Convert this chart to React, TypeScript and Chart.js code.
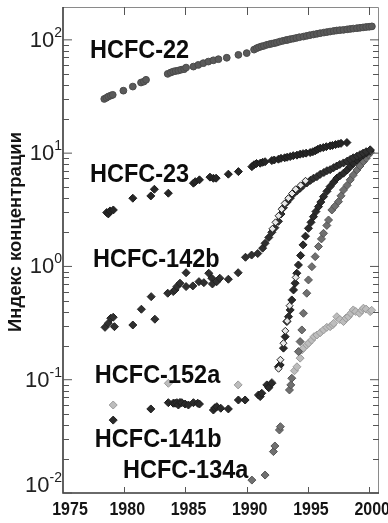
import { useEffect, useRef } from 'react';
import { Chart, registerables } from 'chart.js';
Chart.register(...registerables);

// ---- axis data ----
const xTickYears = [1975, 1980, 1985, 1990, 1995, 2000];
const yDecadeExponents = [-2, -1, 0, 1, 2];
const yMinorMultipliers = [2, 3, 4, 5, 6, 7, 8, 9];
const yAxisTitle = 'Индекс концентрации';

// ---- series (year, concentration index) ----
const hcfc22: [number, number][] = [
  [1978.37, 30.1], [1978.55, 30.8], [1978.7, 31.6], [1978.9, 32.2], [1979.06, 32.7], [1979.93, 35.6],
  [1980.7, 38.7], [1981.37, 42.0], [1981.6, 42.8], [1981.78, 44.4], [1983.55, 50.1], [1983.8, 51.5],
  [1984.0, 52.5], [1984.2, 53.1], [1984.42, 53.6], [1984.65, 54.5], [1984.89, 55.1], [1985.05, 56.9],
  [1985.65, 58.1], [1986.05, 60.1], [1986.46, 62.3], [1986.87, 64.3], [1987.28, 66.0], [1987.69, 67.5],
  [1988.37, 69.5], [1989.32, 73.7], [1990.0, 76.4], [1990.6, 82], [1990.82, 84.5], [1991.0, 86],
  [1991.2, 87.5], [1991.4, 88.5], [1991.64, 90.4], [1991.85, 91.5], [1992.05, 92.5], [1992.25, 93.5],
  [1992.46, 94.7], [1992.7, 96.5], [1992.95, 98], [1993.2, 99.5], [1993.35, 100], [1993.55, 101.4],
  [1993.8, 102.5], [1994.05, 104], [1994.3, 105.5], [1994.63, 106.9], [1994.9, 108.5], [1995.15, 110],
  [1995.45, 111.5], [1995.73, 113], [1996.0, 114.5], [1996.3, 116], [1996.55, 117.2], [1996.81, 118.4],
  [1997.1, 119.8], [1997.35, 121], [1997.6, 121.8], [1997.9, 122.5], [1998.2, 123.8], [1998.45, 124.8],
  [1998.7, 125.8], [1999.0, 126.8], [1999.25, 127.8], [1999.5, 128.8], [1999.75, 129.8], [2000.0, 130.5],
  [2000.22, 131.5],
];

const hcfc23: [number, number][] = [
  [1978.57, 2.99], [1978.7, 2.91], [1978.84, 3.09], [1979.11, 3.15], [1980.7, 4.0], [1982.17, 4.19],
  [1982.46, 4.8], [1983.6, 4.43], [1985.65, 5.43], [1985.8, 5.6], [1986.14, 5.81], [1987.0, 6.14],
  [1987.28, 6.0], [1987.5, 6.01], [1988.5, 6.52], [1989.32, 6.87], [1990.42, 7.6], [1990.6, 7.9],
  [1990.8, 8.1], [1991.1, 8.15], [1991.3, 8.3], [1991.5, 8.4], [1992.05, 8.6], [1992.25, 8.7],
  [1992.59, 8.84], [1992.8, 9.0], [1993.1, 9.1], [1993.3, 9.2], [1993.55, 9.33], [1993.8, 9.5],
  [1994.1, 9.6], [1994.36, 9.79], [1994.6, 9.9], [1994.85, 10.0], [1995.18, 10.12], [1995.4, 10.3],
  [1995.6, 10.5], [1995.8, 10.8], [1996.0, 11.06], [1996.25, 11.2], [1996.5, 11.4], [1996.81, 11.6],
  [1997.0, 11.7], [1997.25, 11.9], [1997.49, 12.07], [1997.7, 12.2], [1998.18, 12.4],
];

const hcfc142b: [number, number][] = [
  [1978.43, 0.29], [1978.7, 0.315], [1978.9, 0.349], [1979.1, 0.356], [1979.2, 0.294], [1980.7, 0.304],
  [1981.4, 0.419], [1982.2, 0.541], [1982.5, 0.342], [1983.55, 0.58], [1984.0, 0.6], [1984.15, 0.62],
  [1984.3, 0.664], [1984.55, 0.711], [1985.05, 0.88], [1985.05, 0.664], [1985.6, 0.673], [1986.1, 0.734],
  [1986.5, 0.719], [1986.9, 0.871], [1987.15, 0.787], [1987.2, 0.7], [1987.55, 0.734], [1987.8, 0.787],
  [1988.5, 0.771], [1989.3, 0.88], [1989.9, 1.205], [1990.4, 1.26], [1990.9, 1.3], [1991.3, 1.45],
  [1991.5, 1.6], [1991.8, 1.8], [1992.05, 2.0], [1992.3, 2.2], [1992.59, 2.5], [1992.8, 2.9],
  [1993.0, 3.3], [1993.3, 3.7], [1993.55, 4.0], [1993.8, 4.35], [1994.1, 4.65], [1994.36, 4.9],
  [1994.6, 5.2], [1994.9, 5.45], [1995.2, 5.75], [1995.45, 6.0], [1995.73, 6.2], [1996.0, 6.5],
  [1996.3, 6.75], [1996.55, 7.0], [1996.81, 7.15], [1997.1, 7.45], [1997.35, 7.7], [1997.6, 7.95],
  [1997.9, 8.2], [1998.2, 8.5], [1998.45, 8.8], [1998.7, 9.1], [1999.0, 9.4], [1999.25, 9.7],
  [1999.5, 10.0], [1999.75, 10.3], [2000.08, 10.7],
];

const hcfc142bOpen: [number, number][] = [
  [1992.1, 2.15], [1992.35, 2.45], [1992.6, 2.8], [1992.85, 3.2], [1993.1, 3.6], [1993.4, 4.0],
  [1993.7, 4.4], [1994.0, 4.8], [1994.4, 5.2], [1994.8, 5.7],
];

const hcfc141b: [number, number][] = [
  [1979.1, 0.044], [1982.17, 0.0552], [1983.6, 0.0627], [1984.0, 0.062], [1984.15, 0.062], [1984.3, 0.0627],
  [1984.42, 0.0598], [1984.55, 0.063], [1984.7, 0.0627], [1984.97, 0.061], [1985.24, 0.0598], [1985.65, 0.0627],
  [1986.0, 0.062], [1986.14, 0.061], [1987.28, 0.054], [1987.4, 0.0565], [1987.56, 0.0578], [1987.88, 0.056],
  [1988.5, 0.0552], [1989.32, 0.0662], [1989.87, 0.0662], [1990.96, 0.0733], [1991.1, 0.071], [1991.23, 0.0759],
  [1991.64, 0.09], [1991.8, 0.085], [1992.05, 0.093], [1992.59, 0.13], [1992.73, 0.135], [1993.0, 0.19],
  [1993.14, 0.24], [1993.28, 0.326], [1993.41, 0.36], [1993.55, 0.413], [1993.68, 0.506], [1993.82, 0.62],
  [1993.95, 0.711], [1994.09, 0.871], [1994.22, 1.03], [1994.4, 1.25], [1994.6, 1.55], [1994.8, 1.85],
  [1995.04, 2.17], [1995.25, 2.45], [1995.45, 2.75], [1995.65, 3.05], [1995.86, 3.37], [1996.05, 3.7],
  [1996.27, 4.13], [1996.55, 4.6], [1996.81, 5.07], [1997.1, 5.55], [1997.36, 6.01], [1997.6, 6.3],
  [1997.9, 6.65], [1998.2, 7.1], [1998.45, 7.61], [1998.7, 8.1], [1999.0, 8.71], [1999.25, 9.2],
  [1999.53, 9.66], [1999.8, 10.1], [2000.08, 10.5],
];

const hcfc141bOpen: [number, number][] = [
  [1992.6, 0.125], [1992.75, 0.15], [1993.0, 0.21], [1993.15, 0.27], [1993.3, 0.33], [1993.5, 0.45], [1994.0, 0.8],
];

const hcfc134a: [number, number][] = [
  [1990.42, 0.013], [1991.5, 0.0144], [1992.18, 0.0232], [1992.3, 0.026], [1992.67, 0.036], [1992.75, 0.0385],
  [1993.49, 0.0812], [1993.6, 0.09], [1993.68, 0.103], [1994.22, 0.177], [1994.36, 0.217], [1994.5, 0.275],
  [1994.63, 0.386], [1994.9, 0.58], [1995.04, 0.76], [1995.32, 0.995], [1995.59, 1.22], [1995.86, 1.5],
  [1996.1, 1.75], [1996.27, 1.96], [1996.54, 2.3], [1996.68, 2.57], [1996.95, 3.15], [1997.2, 3.4],
  [1997.49, 3.73], [1997.7, 4.2], [1997.9, 4.73], [1998.2, 5.2], [1998.45, 5.81], [1998.7, 6.4],
  [1999.0, 7.11], [1999.25, 7.7], [1999.53, 8.42], [1999.75, 9.0], [1999.94, 9.66], [2000.1, 10.2],
];

const hcfc152a: [number, number][] = [
  [1979.1, 0.0598], [1983.6, 0.093], [1989.3, 0.09], [1992.05, 0.095], [1993.9, 0.12], [1994.1, 0.13],
  [1994.36, 0.155], [1994.5, 0.183], [1994.63, 0.19], [1994.9, 0.203], [1995.05, 0.21], [1995.3, 0.224],
  [1995.5, 0.24], [1995.73, 0.248], [1996.0, 0.26], [1996.27, 0.275], [1996.54, 0.29], [1996.81, 0.294],
  [1997.0, 0.304], [1997.1, 0.315], [1997.36, 0.36], [1997.6, 0.34], [1997.9, 0.326], [1998.1, 0.35],
  [1998.3, 0.36], [1998.5, 0.385], [1998.7, 0.413], [1998.9, 0.4], [1999.2, 0.386], [1999.4, 0.41],
  [1999.53, 0.428], [1999.75, 0.42], [2000.08, 0.399], [2000.2, 0.41],
];

// ---- in-plot series labels (anchored in data coordinates: year, index) ----
const labelNames = ['HCFC-22', 'HCFC-23', 'HCFC-142b', 'HCFC-152a', 'HCFC-141b', 'HCFC-134a'];
const labelYears = [1977.2, 1977.2, 1977.45, 1977.6, 1977.6, 1979.9];
const labelValues = [69.3, 5.57, 0.99, 0.0936, 0.0255, 0.01356];

const toPoints = (arr: [number, number][]) => arr.map(([x, y]) => ({ x, y }));

const framePlugin = {
  id: 'scanFrame',
  afterDraw(chart: any) {
    const { ctx, chartArea: a, scales } = chart;
    const xs = scales.x;
    const ys = scales.y;
    ctx.save();

    // frame
    ctx.strokeStyle = '#8a8a8a';
    ctx.lineWidth = 1;
    ctx.beginPath();
    ctx.moveTo(a.left, a.top + 0.5);
    ctx.lineTo(a.right - 0.5, a.top + 0.5);
    ctx.lineTo(a.right - 0.5, a.bottom);
    ctx.stroke();
    ctx.strokeStyle = '#3a3a3a';
    ctx.lineWidth = 1.6;
    ctx.beginPath();
    ctx.moveTo(a.left, a.top);
    ctx.lineTo(a.left, a.bottom);
    ctx.lineTo(a.right, a.bottom);
    ctx.stroke();

    // y ticks (inside, both sides)
    ctx.lineWidth = 1;
    ctx.strokeStyle = '#555';
    ctx.beginPath();
    yDecadeExponents.forEach((e) => {
      const base = Math.pow(10, e);
      const majorY = ys.getPixelForValue(base);
      ctx.moveTo(a.left, majorY); ctx.lineTo(a.left + 9, majorY);
      ctx.moveTo(a.right, majorY); ctx.lineTo(a.right - 9, majorY);
      yMinorMultipliers.forEach((m) => {
        const v = m * base;
        if (v > ys.max) return;
        const py = Math.round(ys.getPixelForValue(v)) + 0.5;
        ctx.moveTo(a.left, py); ctx.lineTo(a.left + 6, py);
        ctx.moveTo(a.right, py); ctx.lineTo(a.right - 6, py);
      });
    });
    // x ticks (inside, top and bottom)
    xTickYears.forEach((yr) => {
      const px = Math.round(xs.getPixelForValue(yr)) + 0.5;
      if (px <= a.left + 1) return;
      ctx.moveTo(px, a.bottom); ctx.lineTo(px, a.bottom - 6);
      ctx.moveTo(px, a.top); ctx.lineTo(px, a.top + 8);
    });
    ctx.stroke();

    // x tick labels
    ctx.fillStyle = '#151515';
    ctx.font = "bold 16px 'Liberation Sans', Arial, sans-serif";
    ctx.textAlign = 'center';
    ctx.textBaseline = 'alphabetic';
    xTickYears.forEach((yr, i) => {
      const px = xs.getPixelForValue(yr) + (i === 0 ? 7 : 3);
      ctx.save();
      ctx.translate(px, a.bottom + 22);
      ctx.scale(1, 1.15);
      ctx.fillText(String(yr), 0, 0);
      ctx.restore();
    });

    // y tick labels: 10 with superscript exponent
    ctx.fillStyle = '#222';
    yDecadeExponents.forEach((e) => {
      const py = ys.getPixelForValue(Math.pow(10, e)) + (e === -2 ? -7 : 1);
      const expText = e < 0 ? '-' + Math.abs(e) : String(e);
      ctx.font = "14px 'Liberation Sans', Arial, sans-serif";
      const expW = ctx.measureText(expText).width;
      const right = a.left - 1;
      ctx.textAlign = 'left';
      ctx.textBaseline = 'alphabetic';
      ctx.fillText(expText, right - expW, py - 4);
      ctx.font = "22px 'Liberation Sans', Arial, sans-serif";
      ctx.textAlign = 'right';
      ctx.textBaseline = 'middle';
      ctx.fillText('10', right - expW, py);
    });

    // y axis title
    ctx.save();
    ctx.translate(21, 232);
    ctx.rotate(-Math.PI / 2);
    ctx.font = "bold 18.5px 'Liberation Sans', Arial, sans-serif";
    ctx.textAlign = 'center';
    ctx.textBaseline = 'alphabetic';
    ctx.fillStyle = '#151515';
    ctx.fillText(yAxisTitle, 0, 0);
    ctx.restore();

    // series labels
    ctx.fillStyle = '#0c0c0c';
    ctx.font = "bold 23.5px 'Liberation Sans', Arial, sans-serif";
    ctx.textAlign = 'left';
    ctx.textBaseline = 'alphabetic';
    labelNames.forEach((name, i) => {
      const px = xs.getPixelForValue(labelYears[i]);
      const py = ys.getPixelForValue(labelValues[i]);
      ctx.save();
      ctx.translate(px, py);
      ctx.scale(1, 1.1);
      ctx.fillText(name, 0, 0);
      ctx.restore();
    });

    ctx.restore();
  },
};

export default function App() {
  const canvasRef = useRef<HTMLCanvasElement | null>(null);

  useEffect(() => {
    if (!canvasRef.current) return;
    const diamond = (label: string, data: [number, number][], fill: string, border: string, r = 4) => ({
      label,
      data: toPoints(data),
      pointStyle: 'rectRot',
      pointRadius: r,
      pointBackgroundColor: fill,
      pointBorderColor: border,
      pointBorderWidth: 1,
      showLine: false,
    });
    const chart = new Chart(canvasRef.current, {
      type: 'scatter',
      data: {
        datasets: [
          diamond('HCFC-141b (open)', hcfc141bOpen, '#e8e8e8', '#222', 3.5),
          diamond('HCFC-142b (open)', hcfc142bOpen, '#e8e8e8', '#222', 3.5),
          {
            label: 'HCFC-22',
            data: toPoints(hcfc22),
            pointStyle: 'circle',
            pointRadius: 3.4,
            pointBackgroundColor: '#5a5a5a',
            pointBorderColor: '#4a4a4a',
            pointBorderWidth: 1,
            showLine: false,
          },
          diamond('HCFC-23', hcfc23, '#262626', '#1c1c1c'),
          diamond('HCFC-142b', hcfc142b, '#303030', '#222'),
          diamond('HCFC-141b', hcfc141b, '#2a2a2a', '#1c1c1c'),
          diamond('HCFC-134a', hcfc134a, '#707070', '#555'),
          diamond('HCFC-152a', hcfc152a, '#bdbdbd', '#9a9a9a'),
        ] as any,
      },
      options: {
        animation: false,
        responsive: false,
        maintainAspectRatio: false,
        layout: { padding: { left: 63, right: 9, top: 7, bottom: 30 } },
        plugins: { legend: { display: false }, tooltip: { enabled: false } },
        scales: {
          x: { type: 'linear', min: 1975, max: 2000.8, display: false },
          y: { type: 'logarithmic', min: 0.01, max: 195, display: false },
        },
      },
      plugins: [framePlugin],
    });
    return () => chart.destroy();
  }, []);

  return (
    <div style={{ position: 'absolute', left: 0, top: 0, width: 388, height: 523, background: '#fff' }}>
      <canvas ref={canvasRef} width={388} height={523} style={{ display: 'block' }} />
    </div>
  );
}
